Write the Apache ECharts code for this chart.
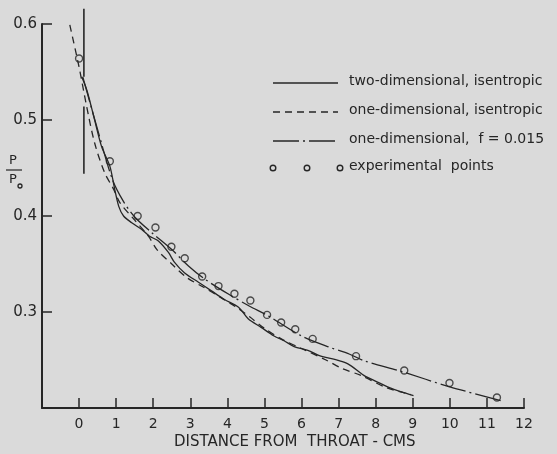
<!DOCTYPE html>
<html lang="en">
<head>
    <meta charset="UTF-8">
    <title>Pressure distribution</title>
    <script src="https://cdn.jsdelivr.net/npm/echarts@6/dist/echarts.min.js"></script>
    <style>
        html, body { margin: 0; padding: 0; background: #dadada; }
    </style>
</head>
<body>
    <div id="main" style="width: 557px;height:454px;"></div>
    <script>
    // values: [distance from throat (cm), p/p0]
    var twoDimIsentropic = [
        [0.07, 0.545], [0.21, 0.531], [0.40, 0.503], [0.61, 0.472], [0.83, 0.452],
        [0.96, 0.428], [1.07, 0.410], [1.20, 0.400], [1.42, 0.393], [1.69, 0.386],
        [1.90, 0.379], [2.14, 0.374], [2.41, 0.362], [2.57, 0.352], [2.84, 0.341],
        [3.22, 0.331], [3.57, 0.322], [3.92, 0.313], [4.30, 0.305], [4.56, 0.293],
        [4.91, 0.284], [5.26, 0.275], [5.53, 0.270], [5.80, 0.264], [6.17, 0.260],
        [6.52, 0.254], [6.87, 0.251], [7.25, 0.246], [7.68, 0.234], [8.05, 0.227],
        [8.32, 0.222], [8.67, 0.217], [9.02, 0.213]
    ];
    var oneDimIsentropic = [
        [-0.25, 0.599], [0.0, 0.555], [0.2, 0.515], [0.42, 0.476], [0.69, 0.445],
        [0.93, 0.428], [1.1, 0.414], [1.47, 0.397], [1.87, 0.379], [2.1, 0.365],
        [2.5, 0.350], [2.9, 0.336], [3.35, 0.326], [3.78, 0.316], [4.2, 0.306],
        [4.6, 0.295], [5.0, 0.283], [5.5, 0.271], [6.0, 0.262], [6.66, 0.250],
        [7.1, 0.241], [7.6, 0.234], [8.3, 0.221], [8.95, 0.214]
    ];
    var oneDimFriction = [
        [0.1, 0.545], [0.5, 0.490], [0.9, 0.438], [1.2, 0.415], [1.5, 0.399],
        [1.95, 0.383], [2.5, 0.365], [2.95, 0.348], [3.4, 0.334], [4.1, 0.317],
        [4.6, 0.306], [5.1, 0.296], [6.0, 0.275], [6.7, 0.264], [7.3, 0.256],
        [7.7, 0.249], [8.7, 0.238], [10.0, 0.222], [11.45, 0.207]
    ];
    var experimental = [
        [0.0, 0.564], [0.83, 0.457], [1.58, 0.400], [2.06, 0.388], [2.49, 0.368],
        [2.85, 0.356], [3.32, 0.337], [3.76, 0.327], [4.19, 0.319], [4.62, 0.312],
        [5.07, 0.297], [5.45, 0.289], [5.83, 0.282], [6.30, 0.272], [7.47, 0.254],
        [8.77, 0.239], [9.99, 0.226], [11.27, 0.211]
    ];
    // throat marker line (drawn in two pieces)
    var throatTop = [[0.13, 0.616], [0.13, 0.545]];
    var throatBottom = [[0.13, 0.514], [0.13, 0.444]];

    var legendNames = [
        'two-dimensional, isentropic',
        'one-dimensional, isentropic',
        'one-dimensional,  f = 0.015',
        'experimental  points'
    ];

    var ink = '#262626';
    var font = 'DejaVu Sans';

    var myChart = echarts.init(document.getElementById('main'));

    var lineSeries = function (data, type) {
        return {
            type: 'line',
            data: data,
            smooth: 0.3,
            symbol: 'none',
            silent: true,
            lineStyle: { color: ink, width: 1.3, type: type }
        };
    };

    var legendY = [83, 112, 141, 168];
    var legendGraphics = [
        { type: 'line', shape: { x1: 273, y1: legendY[0], x2: 338, y2: legendY[0] }, style: { stroke: ink, lineWidth: 1.3 } },
        { type: 'line', shape: { x1: 273, y1: legendY[1], x2: 338, y2: legendY[1] }, style: { stroke: ink, lineWidth: 1.3, lineDash: [7, 5] } },
        { type: 'line', shape: { x1: 273, y1: legendY[2], x2: 338, y2: legendY[2] }, style: { stroke: ink, lineWidth: 1.3, lineDash: [26, 4, 2, 4] } },
        { type: 'circle', shape: { cx: 273, cy: legendY[3], r: 2.8 }, style: { fill: 'none', stroke: ink, lineWidth: 1.4 } },
        { type: 'circle', shape: { cx: 307, cy: legendY[3], r: 2.8 }, style: { fill: 'none', stroke: ink, lineWidth: 1.4 } },
        { type: 'circle', shape: { cx: 340, cy: legendY[3], r: 2.8 }, style: { fill: 'none', stroke: ink, lineWidth: 1.4 } }
    ];
    for (var i = 0; i < legendNames.length; i++) {
        legendGraphics.push({
            type: 'text', left: 349, top: legendY[i] - 9,
            style: { text: legendNames[i], fill: ink, font: '14px "' + font + '"' }
        });
    }

    option = {
        backgroundColor: '#dadada',
        animation: false,
        grid: { left: 42, right: 33, top: 24, bottom: 46 },
        xAxis: {
            type: 'value',
            min: -1,
            max: 12,
            interval: 1,
            splitLine: { show: false },
            axisLine: { onZero: false, lineStyle: { color: ink, width: 2 } },
            axisTick: { inside: true, length: 10, lineStyle: { color: ink, width: 1.5 } },
            axisLabel: {
                color: ink, fontFamily: font, fontSize: 14, margin: 9,
                formatter: function (v) { return v < 0 ? '' : v; }
            }
        },
        yAxis: {
            type: 'value',
            min: 0.2,
            max: 0.6,
            interval: 0.1,
            splitLine: { show: false },
            axisLine: { onZero: false, lineStyle: { color: ink, width: 2 } },
            axisTick: { inside: true, length: 10, lineStyle: { color: ink, width: 1.5 } },
            axisLabel: {
                color: ink, fontFamily: font, fontSize: 15, margin: 5,
                formatter: function (v) { return v < 0.25 ? '' : v.toFixed(1); }
            }
        },
        graphic: legendGraphics.concat([
            { type: 'text', left: 174, top: 435, style: { text: 'DISTANCE FROM  THROAT - CMS', fill: ink, font: '15px "' + font + '"' } },
            { type: 'text', left: 9, top: 154, style: { text: 'P', fill: ink, font: '13px "' + font + '"' } },
            { type: 'line', shape: { x1: 6, y1: 170, x2: 22, y2: 170 }, style: { stroke: ink, lineWidth: 1.2 } },
            { type: 'text', left: 9, top: 173, style: { text: 'P', fill: ink, font: '13px "' + font + '"' } },
            { type: 'circle', shape: { cx: 20, cy: 186, r: 2 }, style: { fill: 'none', stroke: ink, lineWidth: 1.3 } }
        ]),
        series: [
            lineSeries(twoDimIsentropic, 'solid'),
            lineSeries(oneDimIsentropic, [7, 5]),
            lineSeries(oneDimFriction, [26, 4, 2, 4]),
            {
                type: 'scatter',
                data: experimental,
                symbol: 'circle',
                symbolSize: 7,
                silent: true,
                itemStyle: { color: 'rgba(0,0,0,0)', borderColor: ink, borderWidth: 1.4 }
            },
            {
                type: 'line', data: throatTop, symbol: 'none', clip: false, silent: true,
                lineStyle: { color: ink, width: 1.6 }
            },
            {
                type: 'line', data: throatBottom, symbol: 'none', clip: false, silent: true,
                lineStyle: { color: ink, width: 1.6 }
            }
        ]
    };
    myChart.setOption(option);
    </script>
</body>
</html>
